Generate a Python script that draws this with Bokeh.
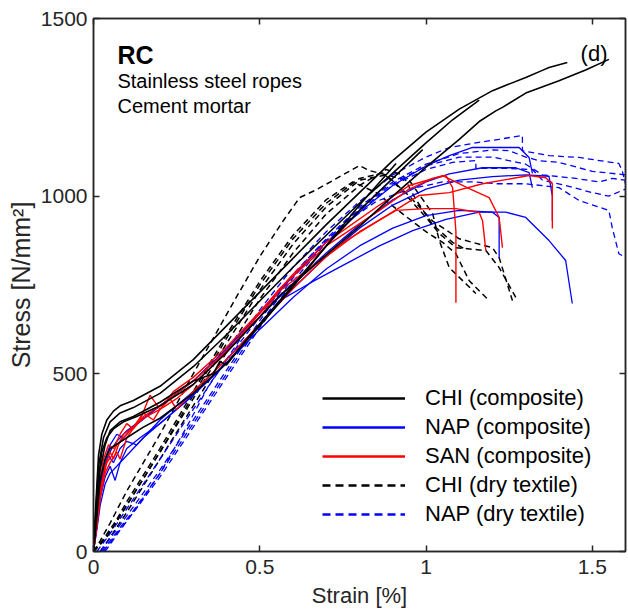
from bokeh.plotting import figure
from bokeh.models import Range1d, FixedTicker, LinearAxis, Legend, LegendItem, Label
from bokeh.embed import file_html
from bokeh.resources import INLINE

# ---------------- data (strain [%], stress [N/mm2]) ----------------
CHI_COMP_X = [
    [0, 0.008, 0.015, 0.025, 0.04, 0.06, 0.09, 0.13, 0.2, 0.3, 0.4, 0.5, 0.56, 0.7, 0.8, 0.9, 1.0, 1.1, 1.16, 1.21, 1.23, 1.3, 1.4, 1.48, 1.55],
    [0, 0.008, 0.015, 0.025, 0.04, 0.06, 0.08, 0.12, 0.2, 0.3, 0.4, 0.5, 0.6, 0.7, 0.8, 0.9, 1.0, 1.1, 1.2, 1.3, 1.35, 1.37, 1.425],
    [0, 0.008, 0.015, 0.03, 0.05, 0.08, 0.12, 0.2, 0.3, 0.4, 0.5, 0.6, 0.7, 0.8, 0.9, 1.0, 1.08, 1.16],
    [0, 0.01, 0.02, 0.035, 0.05, 0.08, 0.12, 0.2, 0.3, 0.36, 0.38, 0.4, 0.45, 0.5, 0.6, 0.7, 0.8, 0.9, 0.99],
    [0, 0.01, 0.02, 0.035, 0.05, 0.1, 0.15, 0.2, 0.3, 0.4, 0.5, 0.6, 0.7, 0.8, 0.91],
]
CHI_COMP_Y = [
    [0, 110, 210, 280, 320, 345, 365, 380, 410, 470, 560, 660, 720, 835, 915, 1000, 1082, 1160, 1210, 1240, 1250, 1290, 1325, 1355, 1385],
    [0, 150, 270, 330, 370, 395, 410, 425, 465, 540, 635, 730, 825, 920, 1010, 1100, 1180, 1245, 1297, 1334, 1354, 1362, 1376],
    [0, 130, 240, 320, 365, 390, 405, 445, 520, 610, 705, 800, 890, 980, 1065, 1150, 1215, 1270],
    [0, 110, 230, 300, 340, 365, 380, 420, 480, 500, 535, 525, 585, 640, 750, 860, 960, 1050, 1131],
    [0, 100, 200, 260, 290, 320, 350, 375, 445, 530, 635, 745, 860, 975, 1092],
]

NAP_COMP_X = [
    [0, 0.01, 0.02, 0.035, 0.05, 0.07, 0.09, 0.12, 0.16, 0.2, 0.3, 0.4, 0.5, 0.6, 0.7, 0.8, 0.9, 1.0, 1.07, 1.14, 1.2, 1.28, 1.31, 1.32],
    [0, 0.01, 0.02, 0.03, 0.045, 0.06, 0.08, 0.1, 0.13, 0.17, 0.2, 0.3, 0.4, 0.5, 0.6, 0.7, 0.8, 0.9, 1.0, 1.1, 1.2, 1.3, 1.37, 1.38, 1.38],
    [0, 0.012, 0.025, 0.04, 0.055, 0.07, 0.1, 0.15, 0.2, 0.3, 0.4, 0.5, 0.6, 0.7, 0.8, 0.9, 1.0, 1.07, 1.17, 1.27, 1.31, 1.32],
    [0, 0.01, 0.02, 0.035, 0.05, 0.065, 0.08, 0.1, 0.14, 0.2, 0.3, 0.4, 0.5, 0.6, 0.7, 0.8, 0.9, 1.0, 1.1, 1.2, 1.22, 1.22],
    [0, 0.01, 0.02, 0.035, 0.05, 0.07, 0.1, 0.15, 0.2, 0.3, 0.4, 0.5, 0.56, 0.66, 0.76, 0.86, 0.96, 1.06, 1.16, 1.24, 1.3, 1.37, 1.42, 1.44],
]
NAP_COMP_Y = [
    [0, 90, 190, 260, 300, 330, 320, 350, 380, 410, 480, 570, 670, 775, 870, 955, 1030, 1085, 1114, 1137, 1137, 1137, 1109, 1064],
    [0, 80, 170, 230, 270, 250, 290, 310, 300, 340, 370, 450, 540, 640, 740, 830, 910, 975, 1020, 1045, 1055, 1060, 1056, 1000, 931],
    [0, 100, 200, 260, 290, 310, 340, 375, 410, 480, 565, 660, 755, 840, 920, 990, 1040, 1063, 1080, 1080, 1066, 1024],
    [0, 70, 150, 210, 240, 200, 250, 290, 320, 360, 440, 530, 625, 715, 795, 860, 910, 945, 960, 955, 940, 827],
    [0, 60, 130, 190, 220, 240, 270, 320, 360, 440, 530, 640, 706, 760, 810, 860, 903, 935, 955, 955, 940, 875, 819, 698],
]

SAN_COMP_X = [
    [0, 0.01, 0.02, 0.035, 0.05, 0.06, 0.075, 0.09, 0.12, 0.15, 0.18, 0.2, 0.25, 0.3, 0.4, 0.5, 0.56, 0.7, 0.86, 0.95, 1.02, 1.06, 1.08, 1.09, 1.09],
    [0, 0.01, 0.02, 0.035, 0.05, 0.07, 0.08, 0.1, 0.13, 0.16, 0.2, 0.23, 0.25, 0.3, 0.4, 0.5, 0.6, 0.7, 0.8, 0.91, 1.0, 1.09, 1.16, 1.17, 1.18],
    [0, 0.012, 0.025, 0.04, 0.055, 0.07, 0.1, 0.14, 0.17, 0.2, 0.24, 0.3, 0.4, 0.5, 0.6, 0.7, 0.86, 0.95, 1.05, 1.13, 1.19, 1.22, 1.23],
    [0, 0.01, 0.02, 0.03, 0.045, 0.06, 0.08, 0.1, 0.12, 0.15, 0.2, 0.3, 0.4, 0.5, 0.56, 0.76, 0.98, 1.07, 1.17, 1.31, 1.36, 1.38, 1.38],
]
SAN_COMP_Y = [
    [0, 80, 170, 240, 280, 260, 300, 330, 350, 390, 370, 400, 430, 470, 560, 670, 740, 860, 960, 1020, 1050, 1058, 1024, 900, 700],
    [0, 70, 150, 220, 250, 280, 260, 320, 360, 380, 400, 430, 400, 450, 540, 640, 740, 830, 900, 960, 965, 965, 954, 931, 847],
    [0, 90, 190, 250, 270, 300, 330, 370, 440, 400, 450, 490, 575, 675, 780, 870, 975, 1030, 1058, 1021, 996, 940, 855],
    [0, 100, 200, 260, 300, 290, 330, 360, 345, 380, 410, 480, 565, 660, 734, 875, 1002, 1010, 1035, 1058, 1052, 1035, 909],
]

CHI_DRY_X = [
    [0, 0.02, 0.05, 0.1, 0.15, 0.2, 0.3, 0.42, 0.5, 0.57, 0.62, 0.67, 0.75, 0.8, 0.83, 0.9, 0.95, 1.02, 1.04, 1.07, 1.15],
    [0, 0.03, 0.06, 0.1, 0.2, 0.3, 0.4, 0.5, 0.6, 0.7, 0.8, 0.87, 0.92, 1.0, 1.04, 1.09, 1.18, 1.22, 1.27],
    [0, 0.03, 0.07, 0.1, 0.2, 0.3, 0.4, 0.5, 0.6, 0.7, 0.78, 0.85, 0.93, 1.0, 1.05, 1.09, 1.13, 1.19],
    [0, 0.04, 0.08, 0.12, 0.2, 0.3, 0.4, 0.5, 0.6, 0.7, 0.8, 0.88, 0.95, 1.02, 1.1, 1.2, 1.22, 1.26],
    [0.02, 0.05, 0.1, 0.2, 0.3, 0.4, 0.5, 0.6, 0.7, 0.8, 0.88, 0.93, 0.97, 1.02, 1.08, 1.12],
]
CHI_DRY_Y = [
    [0, 30, 80, 170, 250, 330, 500, 700, 830, 930, 996, 1018, 1060, 1086, 1072, 1055, 1044, 951, 875, 799, 726],
    [0, 30, 70, 130, 280, 440, 600, 750, 880, 980, 1050, 1065, 1024, 940, 895, 855, 847, 799, 715],
    [0, 35, 90, 140, 290, 450, 610, 760, 890, 990, 1040, 1010, 950, 900, 870, 838, 762, 706],
    [0, 40, 100, 160, 280, 430, 585, 735, 865, 970, 1045, 1060, 1000, 930, 880, 855, 827, 706],
    [0, 40, 110, 260, 410, 560, 710, 840, 950, 1030, 1075, 1060, 990, 920, 870, 850],
]

NAP_DRY_X = [
    [0.01, 0.05, 0.1, 0.15, 0.2, 0.3, 0.4, 0.5, 0.6, 0.7, 0.8, 0.9, 1.0, 1.07, 1.15, 1.22, 1.29, 1.29, 1.37, 1.46, 1.58, 1.59, 1.6],
    [0.02, 0.06, 0.1, 0.2, 0.3, 0.4, 0.5, 0.6, 0.7, 0.8, 0.9, 1.0, 1.1, 1.2, 1.25, 1.3, 1.34, 1.4, 1.5, 1.55, 1.6],
    [0.03, 0.07, 0.12, 0.2, 0.3, 0.4, 0.5, 0.6, 0.7, 0.8, 0.9, 1.0, 1.08, 1.15, 1.15, 1.25, 1.32, 1.35, 1.42, 1.5, 1.55, 1.6],
    [0.035, 0.08, 0.12, 0.2, 0.28, 0.35, 0.45, 0.55, 0.65, 0.75, 0.85, 0.95, 1.05, 1.15, 1.21, 1.3, 1.4, 1.46, 1.55, 1.56, 1.58, 1.59],
    [0.025, 0.07, 0.12, 0.2, 0.3, 0.4, 0.5, 0.6, 0.7, 0.8, 0.9, 1.0, 1.1, 1.2, 1.3, 1.35, 1.45, 1.52, 1.56, 1.6],
]
NAP_DRY_Y = [
    [0, 50, 120, 190, 260, 400, 540, 680, 800, 900, 985, 1060, 1110, 1137, 1150, 1160, 1171, 1128, 1114, 1109, 1092, 1072, 1035],
    [0, 50, 100, 230, 370, 510, 650, 780, 880, 970, 1040, 1090, 1120, 1130, 1128, 1110, 1100, 1095, 1070, 1065, 1060],
    [0, 50, 110, 210, 350, 490, 630, 760, 870, 960, 1030, 1075, 1095, 1100, 1078, 1078, 1075, 1045, 1030, 1010, 1000, 1020],
    [0, 60, 110, 220, 350, 473, 600, 720, 830, 920, 985, 1020, 1040, 1040, 1035, 1035, 1024, 988, 960, 912, 838, 833],
    [0, 55, 115, 220, 360, 500, 640, 770, 875, 965, 1035, 1085, 1110, 1110, 1090, 1060, 1050, 1040, 1050, 1045],
]

SERIES_LABELS = ["CHI (composite)", "NAP (composite)", "SAN (composite)", "CHI (dry textile)", "NAP (dry textile)"]
X_TICKS = [0, 0.5, 1, 1.5]
X_TICK_LABELS = ["0", "0.5", "1", "1.5"]
Y_TICKS = [0, 500, 1000, 1500]

# ---------------- figure ----------------
FONT = "Liberation Sans"
AX = "#262626"

p = figure(width=628, height=610, output_backend="svg", toolbar_location=None,
           x_range=Range1d(0, 1.6), y_range=Range1d(0, 1500),
           min_border_left=93, min_border_right=3, min_border_top=18, min_border_bottom=59)
p.background_fill_color = "white"
p.border_fill_color = "white"
p.xgrid.visible = False
p.ygrid.visible = False
p.outline_line_color = AX
p.outline_line_width = 1.5

for ax in (p.xaxis[0], p.yaxis[0]):
    ax.axis_line_color = AX
    ax.axis_line_width = 1.5
    ax.major_tick_line_color = AX
    ax.major_tick_line_width = 1.5
    ax.major_tick_in = 6
    ax.major_tick_out = 0
    ax.minor_tick_line_color = None
    ax.major_label_text_font = FONT
    ax.major_label_text_color = AX
    ax.axis_label_text_font = FONT
    ax.axis_label_text_color = AX
    ax.axis_label_text_font_style = "normal"

p.xaxis[0].ticker = FixedTicker(ticks=X_TICKS)
p.xaxis[0].major_label_overrides = {t: l for t, l in zip(X_TICKS, X_TICK_LABELS)}
p.xaxis[0].major_label_text_font_size = "21px"
p.xaxis[0].major_label_standoff = 8
p.xaxis[0].axis_label = "Strain [%]"
p.xaxis[0].axis_label_text_font_size = "22px"
p.xaxis[0].axis_label_standoff = 6

p.yaxis[0].ticker = FixedTicker(ticks=Y_TICKS)
p.yaxis[0].major_label_text_font_size = "21px"
p.yaxis[0].major_label_standoff = 6
p.yaxis[0].axis_label = "Stress [N/mm²]"
p.yaxis[0].axis_label_text_font_size = "25px"
p.yaxis[0].axis_label_standoff = 3

# box ticks on top and right (no labels)
top = LinearAxis(ticker=FixedTicker(ticks=X_TICKS))
right = LinearAxis(ticker=FixedTicker(ticks=Y_TICKS))
for ax in (top, right):
    ax.axis_line_color = AX
    ax.axis_line_width = 1.5
    ax.major_tick_line_color = AX
    ax.major_tick_line_width = 1.5
    ax.major_tick_in = 6
    ax.major_tick_out = 0
    ax.minor_tick_line_color = None
    ax.major_label_text_color = None
    ax.major_label_text_font_size = "1px"
    ax.major_label_standoff = 0
top.major_label_overrides = {t: "" for t in X_TICKS}
right.major_label_overrides = {t: "" for t in Y_TICKS}
p.add_layout(top, "above")
p.add_layout(right, "right")

# ---------------- curves ----------------
groups = [
    (CHI_COMP_X, CHI_COMP_Y, "black", "solid", 1.6),
    (NAP_COMP_X, NAP_COMP_Y, "#0000ff", "solid", 1.3),
    (SAN_COMP_X, SAN_COMP_Y, "#ff0000", "solid", 1.4),
    (CHI_DRY_X, CHI_DRY_Y, "black", "6 4", 1.5),
    (NAP_DRY_X, NAP_DRY_Y, "#0000ff", "6 4", 1.3),
]

order = [3, 4, 1, 2, 0]  # drawing order (dry below composites)
for gi in order:
    xs_list, ys_list, col, dash, lw = groups[gi]
    for xs, ys in zip(xs_list, ys_list):
        p.line(xs, ys, line_color=col, line_width=lw, line_dash=dash)

# legend-only renderers (thicker sample lines; a single point draws nothing in the plot)
legend_dash = ["solid", "solid", "solid", "8 5", "8 5"]
items = []
for i in range(5):
    xs_list, ys_list, col = groups[i][0], groups[i][1], groups[i][2]
    r = p.line(xs_list[0][:1], ys_list[0][:1], line_color=col, line_width=2.6,
               line_dash=legend_dash[i])
    items.append(LegendItem(label=SERIES_LABELS[i], renderers=[r]))

legend = Legend(items=items, location=(229, 24), orientation="vertical",
                border_line_alpha=0, background_fill_alpha=0,
                label_text_font=FONT, label_text_font_size="22px", label_text_color="black",
                glyph_width=83, glyph_height=20, label_height=20, label_standoff=20,
                spacing=3, padding=0, margin=0)
p.add_layout(legend, "center")

# ---------------- annotations ----------------
p.add_layout(Label(x=0.072, y=1396, text="RC", text_font=FONT, text_font_size="25px",
                   text_font_style="bold", text_color="black", text_baseline="alphabetic"))
p.add_layout(Label(x=0.072, y=1323, text="Stainless steel ropes", text_font=FONT,
                   text_font_size="20px", text_color="black", text_baseline="alphabetic"))
p.add_layout(Label(x=0.072, y=1255, text="Cement mortar", text_font=FONT,
                   text_font_size="20px", text_color="black", text_baseline="alphabetic"))
p.add_layout(Label(x=1.465, y=1401, text="(d)", text_font=FONT, text_font_size="22px",
                   text_color="black", text_baseline="alphabetic"))

open("out.html", "w").write(file_html(p, INLINE))
